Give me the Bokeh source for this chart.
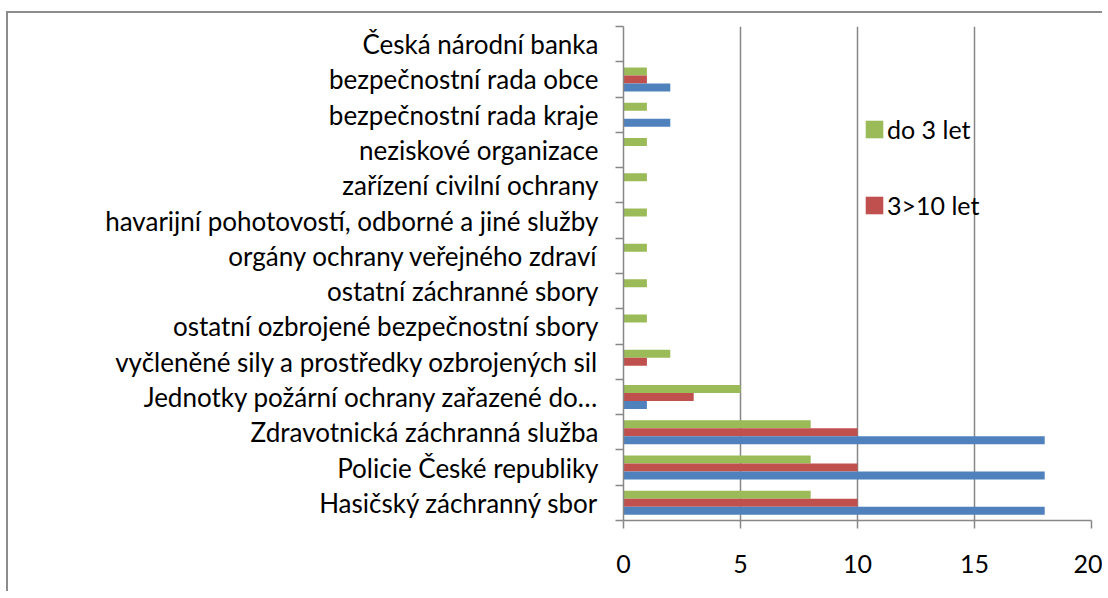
from bokeh.plotting import figure
from bokeh.models import Range1d, FixedTicker, Legend, LegendItem, ColumnDataSource
from bokeh.embed import file_html
from bokeh.resources import INLINE

categories = [
    "Hasičský záchranný sbor",
    "Policie České republiky",
    "Zdravotnická záchranná služba",
    "Jednotky požární ochrany zařazené do…",
    "vyčleněné sily a prostředky ozbrojených sil",
    "ostatní ozbrojené bezpečnostní sbory",
    "ostatní záchranné sbory",
    "orgány ochrany veřejného zdraví",
    "havarijní pohotovostí, odborné a jiné služby",
    "zařízení civilní ochrany",
    "neziskové organizace",
    "bezpečnostní rada kraje",
    "bezpečnostní rada obce",
    "Česká národní banka",
]
do_3_let = [8, 8, 8, 5, 2, 1, 1, 1, 1, 1, 1, 1, 1, 0]
let_3_10 = [10, 10, 10, 3, 1, 0, 0, 0, 0, 0, 0, 0, 1, 0]
nad_10_let = [18, 18, 18, 1, 0, 0, 0, 0, 0, 0, 0, 2, 2, 0]
x_ticks = [0, 5, 10, 15, 20]

FONT = "Lato"
GRAY = "#878787"
BAR_H = 0.227

n = len(categories)
centers = [i + 0.5 for i in range(n)]

p = figure(width=1096, height=580, output_backend="svg", toolbar_location=None,
           x_range=Range1d(0, 20), y_range=Range1d(0, n),
           min_border_left=615, min_border_top=13, min_border_bottom=73, min_border_right=13)
p.styles = {"border-left": "2px solid #8c8c8c", "border-top": "2px solid #8c8c8c",
            "margin-top": "11px", "margin-left": "6px"}
p.outline_line_color = None
p.background_fill_color = "white"

src = ColumnDataSource(dict(
    yc=centers,
    yg=[c + BAR_H for c in centers],
    yb=[c - BAR_H for c in centers],
    g=do_3_let, r=let_3_10, b=nad_10_let,
))

rg = p.hbar(y="yg", right="g", left=0, height=BAR_H, source=src, fill_color="#9BBB59", line_color=None)
rr = p.hbar(y="yc", right="r", left=0, height=BAR_H, source=src, fill_color="#C0504D", line_color=None)
rb = p.hbar(y="yb", right="b", left=0, height=BAR_H, source=src, fill_color="#4F81BD", line_color=None)

# x axis
xa = p.xaxis[0]
xa.ticker = FixedTicker(ticks=x_ticks)
xa.axis_line_color = GRAY
xa.axis_line_width = 1.5
xa.major_tick_line_color = GRAY
xa.major_tick_line_width = 1.5
xa.major_tick_out = 8
xa.major_tick_in = 0
xa.minor_tick_line_color = None
xa.major_label_text_font = FONT
xa.major_label_text_font_size = "25px"
xa.major_label_text_color = "black"
xa.major_label_standoff = 26

# y axis
ya = p.yaxis[0]
ya.ticker = FixedTicker(ticks=centers, minor_ticks=list(range(n + 1)))
ya.major_label_overrides = {c: lab for c, lab in zip(centers, categories)}
ya.axis_line_color = GRAY
ya.axis_line_width = 1.5
ya.major_tick_line_color = None
ya.major_tick_out = 0
ya.major_tick_in = 0
ya.minor_tick_line_color = GRAY
ya.minor_tick_line_width = 1.5
ya.minor_tick_out = 8
ya.minor_tick_in = 0
ya.major_label_text_font = FONT
ya.major_label_text_font_size = "26px"
ya.major_label_text_color = "black"
ya.major_label_standoff = 17

p.xgrid.grid_line_color = GRAY
p.xgrid.grid_line_width = 1.5
p.ygrid.grid_line_color = None

legend = Legend(items=[LegendItem(label="do 3 let", renderers=[rg]),
                       LegendItem(label="3>10 let", renderers=[rr])],
                location=(240, 300))
legend.background_fill_alpha = 0
legend.border_line_color = None
legend.padding = 0
legend.margin = 0
legend.spacing = 46
legend.glyph_width = 22
legend.glyph_height = 22
legend.label_standoff = 2
legend.label_text_font = FONT
legend.label_text_font_size = "25px"
legend.label_text_color = "black"
p.add_layout(legend)

open("out.html", "w").write(file_html(p, INLINE))
